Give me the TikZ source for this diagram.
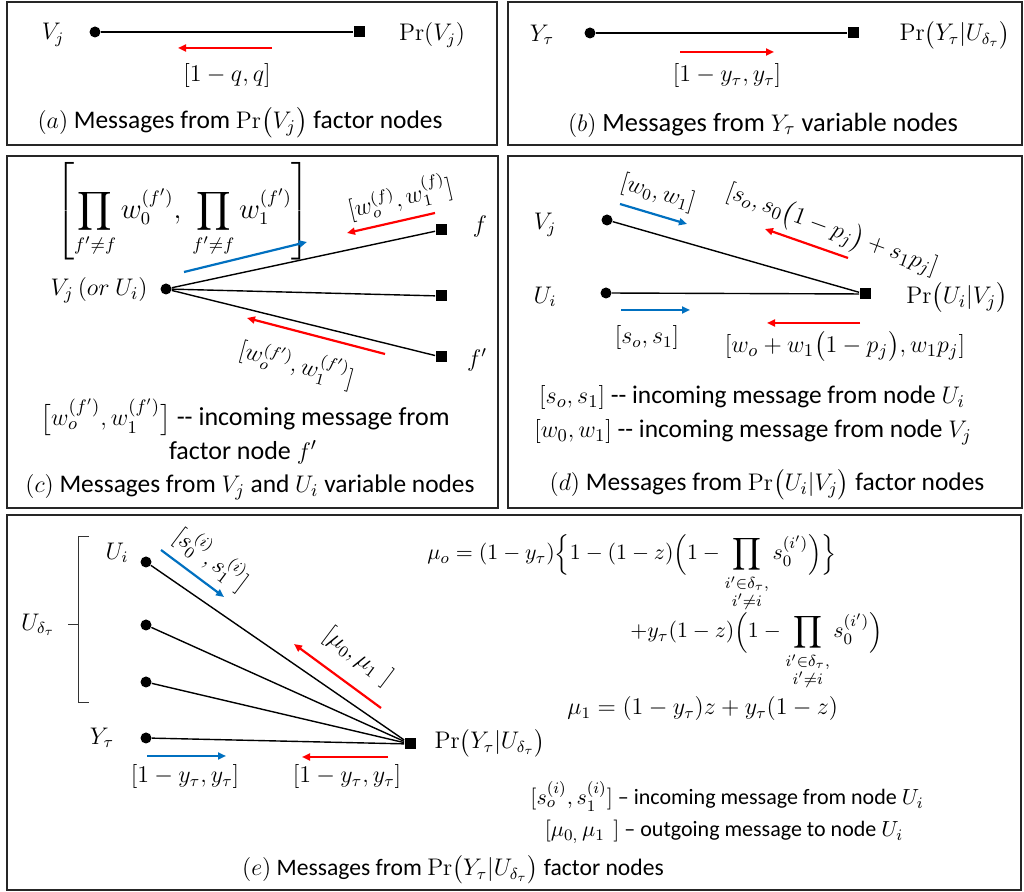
\documentclass[tikz,border=0pt]{standalone}
\usepackage{amsmath,amssymb}
\usepackage[no-math]{fontspec}
\setmainfont{Carlito}
\usepackage{tikz}
\usetikzlibrary{arrows.meta}

\definecolor{msgr}{RGB}{255,0,0}
\definecolor{msgb}{RGB}{0,112,192}

\begin{document}
\begin{tikzpicture}[
    x=0.5pt, y=-0.5pt,
    % Node styles
    varnode/.style={circle, fill=black, minimum size=5.5pt, inner sep=0pt},
    facnode/.style={rectangle, fill=black, minimum size=5.5pt, inner sep=0pt},
    lbl/.style={font=\fontsize{11.5}{13}\selectfont, inner sep=1pt},
    eqtxt/.style={font=\fontsize{11.3}{13}\selectfont, inner sep=0pt},
    legtxt/.style={font=\fontsize{11}{13}\selectfont, inner sep=1pt},
    captxt/.style={font=\fontsize{12.7}{14}\selectfont, inner sep=1pt},
    % Frames and bonds
    panel/.style={draw=black!85, line width=1pt},
    edge/.style={line width=0.7pt},
    brk/.style={line width=0.5pt, draw=black!80},
    % Message arrows
    msgred/.style={line width=1.1pt, draw=msgr, -{Triangle[length=4pt,width=3.5pt]}},
    msgblue/.style={line width=1.1pt, draw=msgb, -{Triangle[length=4pt,width=3.5pt]}}
]
    \useasboundingbox (0,0) rectangle (1024,892);

    % =========================================================================
    % (a) Pr(V_j) FACTOR NODE
    % =========================================================================
    \draw[panel] (7,2) rectangle (497,145);
    \node[varnode] (a-v) at (95,32) {};
    \node[facnode] (a-f) at (359,32) {};
    \node[lbl] (a-vl) at (53,35) {$V_j$};
    \node[lbl] (a-fl) at (432,35) {$\Pr(V_j)$};
    \draw[edge] (a-v) -- (a-f);
    \coordinate (a-m1) at (272,48);
    \coordinate (a-m2) at (178,48);
    \draw[msgred] (a-m1) -- (a-m2);
    \node[lbl] (a-msg) at (227,76) {$[1-q,q]$};
    \node[captxt] (a-cap) at (240,123) {$(a)$ Messages from $\Pr\bigl(V_j\bigr)$ factor nodes};

    % =========================================================================
    % (b) Y_tau VARIABLE NODE
    % =========================================================================
    \draw[panel] (508,2) rectangle (1022,145);
    \node[varnode] (b-y) at (590,33) {};
    \node[facnode] (b-f) at (853,33) {};
    \node[lbl] (b-yl) at (542,35) {$Y_\tau$};
    \node[lbl] (b-fl) at (955,35) {$\Pr\bigl(Y_\tau|U_{\delta_\tau}\bigr)$};
    \draw[edge] (b-y) -- (b-f);
    \coordinate (b-m1) at (680,52);
    \coordinate (b-m2) at (774,52);
    \draw[msgred] (b-m1) -- (b-m2);
    \node[lbl] (b-msg) at (727,76) {$[1-y_\tau,y_\tau]$};
    \node[captxt, font=\fontsize{13.2}{15}\selectfont] (b-cap) at (763,125) {$(b)$ Messages from $Y_\tau$ variable nodes};

    % =========================================================================
    % (c) V_j / U_i VARIABLE NODES
    % =========================================================================
    \draw[panel] (7,156) rectangle (498,508);
    \node[varnode] (c-v) at (166,289) {};
    \node[lbl, anchor=east, font=\fontsize{12.5}{14}\selectfont] (c-vl) at (150,290) {$V_j\,(or\ U_i)$};
    \node[facnode] (c-f1) at (441,230) {};
    \node[facnode] (c-f2) at (441,296) {};
    \node[facnode] (c-f3) at (441,357) {};
    \node[lbl] (c-fl1) at (480,227) {$f$};
    \node[lbl] (c-fl3) at (477,360) {$f'$};
    \foreach \k in {1,2,3} {
        \draw[edge] (c-v) -- (c-f\k);
    }
    \node[lbl, font=\fontsize{13.5}{15}\selectfont] (c-prod) at (183,211) {$\left[\displaystyle\prod_{f'\neq f} w_0^{(f')},\ \prod_{f'\neq f} w_1^{(f')}\right]$};
    \coordinate (c-b1) at (184,272);
    \coordinate (c-b2) at (307,242);
    \draw[msgblue] (c-b1) -- (c-b2);
    \coordinate (c-r1) at (435,213);
    \coordinate (c-r2) at (347,233);
    \draw[msgred] (c-r1) -- (c-r2);
    \node[lbl, rotate=13] (c-ml1) at (400,197) {$[w_o^{(f)},w_1^{(f)}]$};
    \coordinate (c-r3) at (385,354);
    \coordinate (c-r4) at (247,318);
    \draw[msgred] (c-r3) -- (c-r4);
    \node[lbl, rotate=-15] (c-ml2) at (297,363) {$[w_o^{(f')},w_1^{(f')}]$};
    \node[legtxt, font=\fontsize{13}{15}\selectfont] (c-leg1) at (245,417) {$\bigl[w_o^{(f')},w_1^{(f')}\bigr]$ -{}- incoming message from};
    \node[legtxt, font=\fontsize{13}{15}\selectfont] (c-leg2) at (243,452) {factor node $f'$};
    \node[captxt] (c-cap) at (250,487) {$(c)$ Messages from $V_j$ and $U_i$ variable nodes};

    % =========================================================================
    % (d) Pr(U_i|V_j) FACTOR NODE
    % =========================================================================
    \draw[panel] (508,156) rectangle (1022,508);
    \node[varnode] (d-v) at (607,220) {};
    \node[varnode] (d-u) at (606,293) {};
    \node[facnode] (d-f) at (865,294) {};
    \node[lbl] (d-vl) at (545,225) {$V_j$};
    \node[lbl] (d-ul) at (545,297) {$U_i$};
    \node[lbl, font=\fontsize{12.5}{14}\selectfont] (d-fl) at (957,298) {$\Pr\bigl(U_i|V_j\bigr)$};
    \draw[edge] (d-v) -- (d-f);
    \draw[edge] (d-u) -- (d-f);
    \coordinate (d-b1) at (620,204);
    \coordinate (d-b2) at (687,224);
    \draw[msgblue] (d-b1) -- (d-b2);
    \node[lbl, rotate=-16] (d-ml1) at (658,193) {$[w_0,w_1]$};
    \coordinate (d-r1) at (848,258);
    \coordinate (d-r2) at (765,229);
    \draw[msgred] (d-r1) -- (d-r2);
    \node[lbl, rotate=-20, font=\fontsize{12.5}{14}\selectfont] (d-ml2) at (832,230) {$[s_o,s_0\bigl(1-p_j\bigr)+s_1p_j]$};
    \coordinate (d-b3) at (621,310);
    \coordinate (d-b4) at (690,310);
    \draw[msgblue] (d-b3) -- (d-b4);
    \node[lbl] (d-ml3) at (647,338) {$[s_o,s_1]$};
    \coordinate (d-r3) at (860,323);
    \coordinate (d-r4) at (767,323);
    \draw[msgred] (d-r3) -- (d-r4);
    \node[lbl, font=\fontsize{12.5}{14}\selectfont] (d-ml4) at (845,347) {$[w_o+w_1\bigl(1-p_j\bigr),w_1p_j]$};
    \node[legtxt, font=\fontsize{12.7}{14}\selectfont] (d-leg1) at (752,398) {$[s_o,s_1]$ -{}- incoming message from node $U_i$};
    \node[legtxt, font=\fontsize{12.7}{14}\selectfont] (d-leg2) at (753,432) {$[w_0,w_1]$ -{}- incoming message from node $V_j$};
    \node[captxt] (d-cap) at (767,485) {$(d)$ Messages from $\Pr\bigl(U_i|V_j\bigr)$ factor nodes};

    % =========================================================================
    % (e) Pr(Y_tau|U_delta) FACTOR NODE
    % =========================================================================
    \draw[panel] (7,515) rectangle (1021,890);
    \node[varnode] (e-u1) at (146,562) {};
    \node[varnode] (e-u2) at (146,625) {};
    \node[varnode] (e-u3) at (146,682) {};
    \node[varnode] (e-y) at (146,738) {};
    \node[facnode] (e-f) at (410,744) {};
    \foreach \k in {u1,u2,u3,y} {
        \draw[edge] (e-\k) -- (e-f);
    }
    \node[lbl] (e-ul) at (117,553) {$U_i$};
    \node[lbl] (e-yl) at (102,738) {$Y_\tau$};
    \node[lbl] (e-dl) at (38,625) {$U_{\delta_\tau}$};
    \node[lbl] (e-fl) at (490,743) {$\Pr\bigl(Y_\tau|U_{\delta_\tau}\bigr)$};
    % bracket round the U nodes
    \draw[brk] (89,537) -- (78,537) -- (78,703) -- (89,703) (78,625) -- (68,625);
    \coordinate (e-b1) at (161,550);
    \coordinate (e-b2) at (224,597);
    \draw[msgblue] (e-b1) -- (e-b2);
    \node[lbl, rotate=-37] (e-ml1) at (212,558) {$[s_0^{(i)},s_1^{(i)}]$};
    \coordinate (e-r1) at (381,708);
    \coordinate (e-r2) at (294,644);
    \draw[msgred] (e-r1) -- (e-r2);
    \node[lbl, rotate=-37] (e-ml2) at (358,657) {$[\mu_0,\mu_1\ \,]$};
    \coordinate (e-b3) at (147,756);
    \coordinate (e-b4) at (226,756);
    \draw[msgblue] (e-b3) -- (e-b4);
    \node[lbl] (e-ml3) at (185,777) {$[1-y_\tau,y_\tau]$};
    \coordinate (e-r3) at (388,757);
    \coordinate (e-r4) at (302,757);
    \draw[msgred] (e-r3) -- (e-r4);
    \node[lbl] (e-ml4) at (347,777) {$[1-y_\tau,y_\tau]$};

    % --- update equations ---
    \node[eqtxt, anchor=base west] (e-eq1) at (427,560) {$\mu_o=(1-y_\tau)\Bigl\{1-(1-z)\Bigl(1-\displaystyle\prod_{\substack{i'\in\delta_\tau,\\ i'\neq i}} s_0^{(i')}\Bigr)\Bigr\}$};
    \node[eqtxt, anchor=base west] (e-eq2) at (630,638) {$+y_\tau(1-z)\Bigl(1-\displaystyle\prod_{\substack{i'\in\delta_\tau,\\ i'\neq i}} s_0^{(i')}\Bigr)$};
    \node[eqtxt, anchor=base west, font=\fontsize{12}{14}\selectfont] (e-eq3) at (567,715) {$\mu_1=(1-y_\tau)z+y_\tau(1-z)$};

    \node[legtxt, anchor=base] (e-leg1) at (727,805) {$[s_o^{(i)},s_1^{(i)}]$ – incoming message from node $U_i$};
    \node[legtxt, anchor=base] (e-leg2) at (724,837) {$[\mu_{0,}\,\mu_1\ \,]$ – outgoing message to node $U_i$};
    \node[captxt, font=\fontsize{11.8}{13}\selectfont] (e-cap) at (453,870) {$(e)$ Messages from $\Pr\bigl(Y_\tau|U_{\delta_\tau}\bigr)$ factor nodes};

\end{tikzpicture}
\end{document}
